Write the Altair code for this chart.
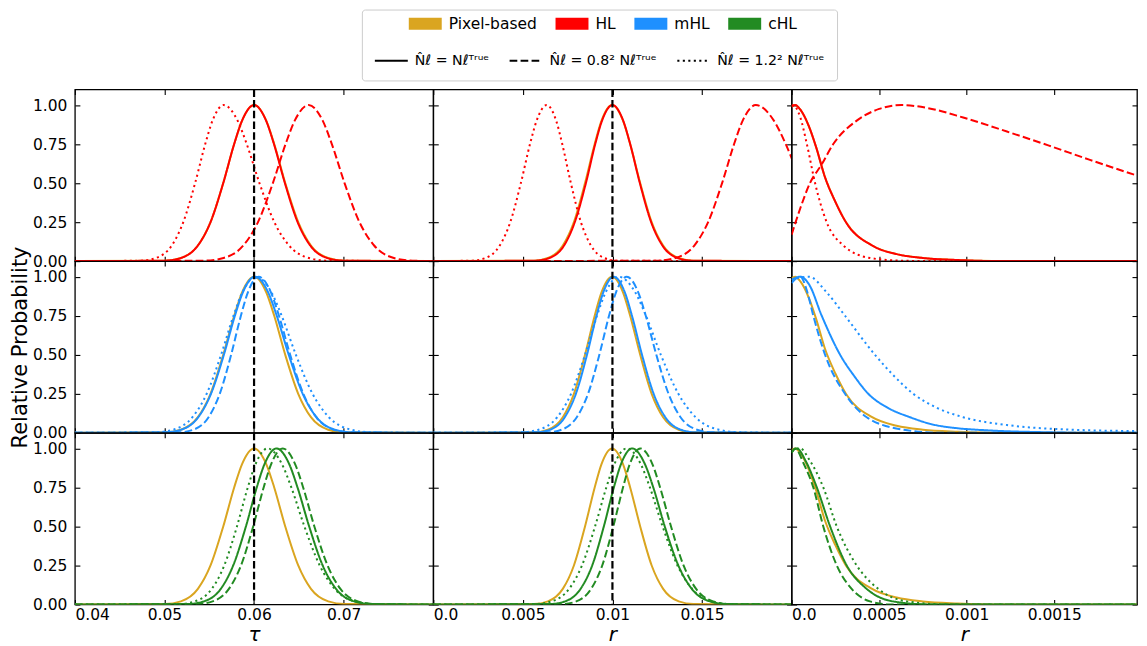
import altair as alt
import pandas as pd

# ---------------- categories / styles ----------------
METHODS = ["Pixel-based", "HL", "mHL", "cHL"]
METHOD_COLORS = ["#DAA520", "#FF0000", "#1E90FF", "#228B22"]
# same colours, listed in the order used by the curve lines
LINE_METHODS = ["HL", "mHL", "cHL", "Pixel-based"]
LINE_COLORS = ["#FF0000", "#1E90FF", "#228B22", "#DAA520"]
NOISE_LABELS = ["N\u0302\u2113 = N\u2113\u1d40\u02b3\u1d58\u1d49",
                "N\u0302\u2113 = 0.8\u00b2 N\u2113\u1d40\u02b3\u1d58\u1d49",
                "N\u0302\u2113 = 1.2\u00b2 N\u2113\u1d40\u02b3\u1d58\u1d49"]
NOISE_DASHES = [[1, 0], [7.7, 3.3], [2.1, 3.4]]

X_DOMAINS = [[0.04, 0.08], [0.0, 0.02], [0.0, 0.001973]]
X_TICKS = [[0.04, 0.05, 0.06, 0.07], [0.0, 0.005, 0.01, 0.015], [0.0, 0.0005, 0.001, 0.0015]]
X_TITLES = ["τ", "r", "r"]
Y_TICKS = [0, 0.25, 0.5, 0.75, 1.0]
TRUE_VALUES = [0.06, 0.01]

# ---------------- curve readings ----------------
BELL_Y = [0, 0.003, 0.02, 0.1, 0.25, 0.5, 0.75, 0.9, 1.0, 0.9, 0.75, 0.5, 0.25, 0.1, 0.02, 0.003, 0]

# tau column
TAU_PIX = [0.04, 0.05004, 0.05183, 0.05373, 0.05514, 0.05656, 0.05778, 0.05866, 0.0600, 0.06136, 0.06225, 0.06348, 0.06493, 0.06635, 0.06828, 0.07009, 0.08]
TAU_HL_SOLID = [0.04, 0.05004, 0.05183, 0.05373, 0.05514, 0.05656, 0.05778, 0.05866, 0.0600, 0.06134, 0.06222, 0.06344, 0.06486, 0.06627, 0.06817, 0.06996, 0.08]
TAU_HL_DASH = [0.04, 0.05451, 0.05659, 0.0588, 0.06044, 0.0621, 0.06352, 0.06454, 0.0661, 0.06766, 0.06868, 0.0701, 0.07176, 0.0734, 0.07561, 0.07769, 0.08]
TAU_HL_DOT = [0.04, 0.04739, 0.04905, 0.05081, 0.0521, 0.05342, 0.05455, 0.05536, 0.0566, 0.05816, 0.05918, 0.0606, 0.06226, 0.0639, 0.06611, 0.06819, 0.08]
TAU_MHL_SOLID = [0.04, 0.05004, 0.05185, 0.05377, 0.05519, 0.05663, 0.05786, 0.05875, 0.0601, 0.06157, 0.06253, 0.06387, 0.06543, 0.06697, 0.06905, 0.07101, 0.08]
TAU_MHL_DASH = [0.04, 0.05163, 0.05323, 0.05492, 0.05617, 0.05744, 0.05853, 0.05931, 0.0605, 0.06188, 0.06278, 0.06403, 0.0655, 0.06694, 0.06889, 0.07073, 0.08]
TAU_MHL_DOT = [0.04, 0.04895, 0.05097, 0.05312, 0.05471, 0.05632, 0.0577, 0.05869, 0.0602, 0.06194, 0.06308, 0.06467, 0.06653, 0.06835, 0.07083, 0.07316, 0.08]
TAU_CHL_SOLID = [0.04, 0.05261, 0.05439, 0.05628, 0.05767, 0.05909, 0.0603, 0.06117, 0.0625, 0.06392, 0.06485, 0.06615, 0.06766, 0.06915, 0.07117, 0.07307, 0.08]
TAU_CHL_DASH = [0.04, 0.05365, 0.05537, 0.05719, 0.05854, 0.0599, 0.06107, 0.06191, 0.0632, 0.06458, 0.06548, 0.06673, 0.0682, 0.06964, 0.07159, 0.07343, 0.08]
TAU_CHL_DOT = [0.04, 0.05161, 0.05339, 0.05528, 0.05667, 0.05809, 0.0593, 0.06017, 0.0615, 0.06311, 0.06416, 0.06562, 0.06733, 0.06901, 0.07129, 0.07344, 0.08]

# r column (0 - 0.02)
R_PIX = [0.0, 0.00562, 0.0064, 0.00723, 0.00785, 0.00847, 0.00901, 0.00939, 0.00998, 0.01059, 0.01099, 0.01155, 0.01219, 0.01283, 0.0137, 0.01452, 0.02]
R_HL_SOLID = [0.0, 0.0057, 0.00648, 0.0073, 0.0079, 0.00852, 0.00904, 0.00942, 0.0100, 0.0106, 0.01099, 0.01153, 0.01216, 0.01279, 0.01364, 0.01443, 0.02]
R_HL_DOT = [0.0, 0.00217, 0.00292, 0.00371, 0.0043, 0.00489, 0.0054, 0.00577, 0.00633, 0.00686, 0.0072, 0.00768, 0.00824, 0.0088, 0.00955, 0.01025, 0.02]
R_HL_DASH_X = [0.0, 0.01254, 0.01352, 0.01457, 0.01534, 0.01612, 0.01679, 0.01727, 0.0180, 0.01901, 0.01967, 0.0200, 0.0205]
R_HL_DASH_Y = [0, 0.003, 0.02, 0.1, 0.25, 0.5, 0.75, 0.9, 1.0, 0.9, 0.75, 0.66, 0.52]
R_MHL_SOLID = [0.0, 0.00574, 0.00652, 0.00734, 0.00796, 0.00858, 0.00911, 0.00949, 0.01007, 0.01069, 0.01109, 0.01165, 0.0123, 0.01295, 0.01382, 0.01464, 0.02]
R_MHL_DASH = [0.0, 0.00637, 0.00716, 0.00801, 0.00864, 0.00927, 0.00981, 0.0102, 0.0108, 0.01144, 0.01186, 0.01245, 0.01313, 0.0138, 0.01472, 0.01557, 0.02]
R_MHL_DOT = [0.0, 0.00489, 0.00587, 0.00692, 0.00769, 0.00847, 0.00914, 0.00962, 0.01035, 0.01127, 0.01187, 0.0127, 0.01368, 0.01464, 0.01594, 0.01717, 0.02]
R_CHL_SOLID = [0.0, 0.00653, 0.00735, 0.00822, 0.00887, 0.00952, 0.01008, 0.01048, 0.0111, 0.01181, 0.01228, 0.01292, 0.01368, 0.01443, 0.01544, 0.01639, 0.02]
R_CHL_DASH = [0.0, 0.0072, 0.00798, 0.00881, 0.00943, 0.01005, 0.01059, 0.01097, 0.01156, 0.01223, 0.01266, 0.01327, 0.01397, 0.01467, 0.01562, 0.0165, 0.02]
R_CHL_DOT = [0.0, 0.00568, 0.0066, 0.00758, 0.0083, 0.00903, 0.00966, 0.01011, 0.0108, 0.01158, 0.01209, 0.0128, 0.01363, 0.01445, 0.01555, 0.0166, 0.02]

# r column (0 - 0.002)
R3_PIX_X = [0.0, 0.00002, 0.00005, 0.0001, 0.00014, 0.00019, 0.00025, 0.00031, 0.00046, 0.0006, 0.00075, 0.00095, 0.0012, 0.00205]
R3_PIX_Y = [0.99, 1.0, 0.97, 0.86, 0.73, 0.54, 0.38, 0.25, 0.1, 0.045, 0.02, 0.007, 0.0, 0.0]
R3_HL_DOT_X = [0.0, 0.00002, 0.00005, 0.000087, 0.000134, 0.0002, 0.000296, 0.000448, 0.00062, 0.0008, 0.00205]
R3_HL_DOT_Y = [1.0, 0.99, 0.92, 0.75, 0.5, 0.25, 0.1, 0.02, 0.003, 0.0, 0.0]
R3_HL_DASH_X = [0.0, 0.00005, 0.000105, 0.000172, 0.000238, 0.000372, 0.0005, 0.000628, 0.00078, 0.00098, 0.00123, 0.00147, 0.0017, 0.00205]
R3_HL_DASH_Y = [0.17, 0.34, 0.5, 0.62, 0.75, 0.9, 0.975, 1.0, 0.98, 0.92, 0.83, 0.74, 0.65, 0.52]
R3_MHL_SOLID_X = [0.0, 0.00005, 0.0001, 0.000172, 0.000277, 0.00036, 0.000438, 0.00055, 0.000676, 0.0008, 0.000942, 0.0011, 0.00123, 0.0014, 0.0017, 0.00205]
R3_MHL_SOLID_Y = [0.98, 1.0, 0.95, 0.75, 0.5, 0.36, 0.25, 0.16, 0.1, 0.055, 0.03, 0.017, 0.01, 0.005, 0.0, 0.0]
R3_MHL_DASH_X = [0.0, 0.00005, 0.00009, 0.000124, 0.000191, 0.000305, 0.000429, 0.000638, 0.00085, 0.00205]
R3_MHL_DASH_Y = [0.96, 1.0, 0.9, 0.75, 0.5, 0.25, 0.1, 0.02, 0.0, 0.0]
R3_MHL_DOT_X = [0.0, 0.00005, 0.0001, 0.0002, 0.000305, 0.000476, 0.00058, 0.000695, 0.00083, 0.00098, 0.00123, 0.0016, 0.00205]
R3_MHL_DOT_Y = [0.98, 0.995, 1.0, 0.9, 0.75, 0.5, 0.37, 0.25, 0.16, 0.1, 0.05, 0.02, 0.01]
R3_CHL_SOLID_X = [0.0, 0.00003, 0.00008, 0.000144, 0.00022, 0.000315, 0.000429, 0.00058, 0.00079, 0.00205]
R3_CHL_SOLID_Y = [0.98, 1.0, 0.92, 0.75, 0.5, 0.25, 0.1, 0.02, 0.0, 0.0]
R3_CHL_DASH_X = [0.0, 0.00002, 0.00007, 0.000124, 0.000181, 0.000258, 0.000343, 0.000448, 0.00056, 0.00205]
R3_CHL_DASH_Y = [0.97, 1.0, 0.9, 0.75, 0.5, 0.25, 0.1, 0.02, 0.0, 0.0]
R3_CHL_DOT_X = [0.0, 0.00005, 0.0001, 0.000181, 0.000258, 0.000372, 0.000495, 0.000657, 0.0009, 0.00205]
R3_CHL_DOT_Y = [0.98, 1.0, 0.93, 0.75, 0.5, 0.25, 0.1, 0.02, 0.0, 0.0]

# (column, xs, ys) for the pixel-based reference, drawn in every row
PIXEL_CURVES = [(0, TAU_PIX, BELL_Y), (1, R_PIX, BELL_Y), (2, R3_PIX_X, R3_PIX_Y)]

# (row, column, method, noise index, xs, ys)
CURVES = [
    (0, 0, "HL", 0, TAU_HL_SOLID, BELL_Y), (0, 0, "HL", 1, TAU_HL_DASH, BELL_Y), (0, 0, "HL", 2, TAU_HL_DOT, BELL_Y),
    (1, 0, "mHL", 0, TAU_MHL_SOLID, BELL_Y), (1, 0, "mHL", 1, TAU_MHL_DASH, BELL_Y), (1, 0, "mHL", 2, TAU_MHL_DOT, BELL_Y),
    (2, 0, "cHL", 0, TAU_CHL_SOLID, BELL_Y), (2, 0, "cHL", 1, TAU_CHL_DASH, BELL_Y), (2, 0, "cHL", 2, TAU_CHL_DOT, BELL_Y),
    (0, 1, "HL", 0, R_HL_SOLID, BELL_Y), (0, 1, "HL", 1, R_HL_DASH_X, R_HL_DASH_Y), (0, 1, "HL", 2, R_HL_DOT, BELL_Y),
    (1, 1, "mHL", 0, R_MHL_SOLID, BELL_Y), (1, 1, "mHL", 1, R_MHL_DASH, BELL_Y), (1, 1, "mHL", 2, R_MHL_DOT, BELL_Y),
    (2, 1, "cHL", 0, R_CHL_SOLID, BELL_Y), (2, 1, "cHL", 1, R_CHL_DASH, BELL_Y), (2, 1, "cHL", 2, R_CHL_DOT, BELL_Y),
    (0, 2, "HL", 0, R3_PIX_X, R3_PIX_Y), (0, 2, "HL", 1, R3_HL_DASH_X, R3_HL_DASH_Y), (0, 2, "HL", 2, R3_HL_DOT_X, R3_HL_DOT_Y),
    (1, 2, "mHL", 0, R3_MHL_SOLID_X, R3_MHL_SOLID_Y), (1, 2, "mHL", 1, R3_MHL_DASH_X, R3_MHL_DASH_Y), (1, 2, "mHL", 2, R3_MHL_DOT_X, R3_MHL_DOT_Y),
    (2, 2, "cHL", 0, R3_CHL_SOLID_X, R3_CHL_SOLID_Y), (2, 2, "cHL", 1, R3_CHL_DASH_X, R3_CHL_DASH_Y), (2, 2, "cHL", 2, R3_CHL_DOT_X, R3_CHL_DOT_Y),
]

PANEL_W = [359, 359, 346]
PANEL_H = 172

# ---------------- tables ----------------
pix_rows = []
for c, xs, ys in PIXEL_CURVES:
    for x, y in zip(xs, ys):
        pix_rows.append({"col": c, "method": "Pixel-based", "x": x, "y": y})
pix_df = pd.DataFrame(pix_rows)

var_rows = []
for r, c, m, n, xs, ys in CURVES:
    for x, y in zip(xs, ys):
        var_rows.append({"row": r, "col": c, "method": m, "noise": n, "x": x, "y": y})
var_df = pd.DataFrame(var_rows)

legend_methods = pd.DataFrame({"method": pd.Series([], dtype=str)})
legend_noise = pd.DataFrame({"noise": pd.Series([], dtype=str)})

LABEL_EXPR = "datum.value == 0 ? '0.0' : toString(datum.value)"


def line_color_scale():
    return alt.Scale(domain=LINE_METHODS, range=LINE_COLORS)


def legend_layers():
    swatches = alt.Chart(legend_methods).mark_bar().encode(
        fill=alt.Fill("method:N", scale=alt.Scale(domain=METHODS, range=METHOD_COLORS),
                      legend=alt.Legend(
            title=None, orient="none", legendX=334.5, legendY=-76, direction="horizontal",
            columns=4, symbolType="M-1,-0.6H2.3V0.6H-1Z", symbolSize=400, symbolStrokeWidth=0,
            symbolOpacity=1, labelFontSize=15.5, labelOffset=20, columnPadding=18, padding=0,
            labelColor="black", zindex=2))
    )
    dash_keys = alt.Chart(legend_noise).mark_line(color="black").encode(
        strokeDash=alt.StrokeDash("noise:N", scale=alt.Scale(domain=NOISE_LABELS, range=NOISE_DASHES),
                                  legend=alt.Legend(
            title=" ", titleFontSize=18, titlePadding=10, titleColor="transparent",
            orient="none", legendX=287.5, legendY=-80, direction="horizontal", columns=3,
            symbolType="M-1,0H2.3", symbolSize=400, symbolStrokeWidth=2,
            symbolStrokeColor="black", labelFontSize=14.2, labelOffset=19, columnPadding=16,
            padding=12, strokeColor="#cccccc", cornerRadius=3, labelColor="black", zindex=1))
    )
    return [swatches, dash_keys]


def panel(r, c):
    xsc = alt.Scale(domain=X_DOMAINS[c], nice=False, zero=False)
    ysc = alt.Scale(domain=[0, 1.1], nice=False, zero=False)
    bottom = r == 2
    left = c == 0

    top_axis = alt.Axis(orient="top", values=X_TICKS[c], offset=-5, tickSize=5, domain=False,
                        labels=False, grid=False, title=None)
    right_axis = alt.Axis(orient="right", values=Y_TICKS, offset=-5, tickSize=5, domain=False,
                          labels=False, grid=False, title=None)
    bottom_axis = alt.Axis(orient="bottom", values=X_TICKS[c], offset=-5, tickSize=5, domain=False,
                           grid=False, labels=bottom, labelExpr=LABEL_EXPR, labelPadding=3,
                           labelFontSize=15.5, title=X_TITLES[c] if bottom else None,
                           titleFontSize=20, titleFontStyle="italic", titleFontWeight="normal",
                           titlePadding=2)
    left_axis = alt.Axis(orient="left", values=Y_TICKS, offset=-5, tickSize=5, domain=False,
                         grid=False, labels=left, format=".2f", labelPadding=8, labelFontSize=15.5,
                         title="Relative Probability" if (left and r == 1) else None,
                         titleFontSize=21, titleFontWeight="normal", titlePadding=2)

    pix = alt.Chart(pix_df[pix_df["col"] == c]).mark_line(
        clip=True, strokeWidth=2, interpolate="monotone"
    ).encode(
        x=alt.X("x:Q", scale=xsc, axis=top_axis),
        y=alt.Y("y:Q", scale=ysc, axis=right_axis),
        color=alt.Color("method:N", scale=line_color_scale(), legend=None),
    )
    layers = [pix]
    for n in range(3):
        sub = var_df[(var_df["row"] == r) & (var_df["col"] == c) & (var_df["noise"] == n)]
        first = n == 0
        layers.append(
            alt.Chart(sub).mark_line(
                clip=True, strokeWidth=2, interpolate="monotone", strokeDash=NOISE_DASHES[n]
            ).encode(
                x=alt.X("x:Q", scale=xsc, axis=bottom_axis if first else None),
                y=alt.Y("y:Q", scale=ysc, axis=left_axis if first else None),
                color=alt.Color("method:N", scale=line_color_scale(), legend=None),
            )
        )
    if c < 2:
        rule = alt.Chart(pd.DataFrame({"t": [TRUE_VALUES[c]]})).mark_rule(
            color="black", strokeWidth=2.2, strokeDash=[7.5, 3.2]
        ).encode(x=alt.X("t:Q", scale=xsc, axis=None))
        layers.append(rule)
    if r == 0 and c == 0:
        layers.extend(legend_layers())
    return alt.layer(*layers).properties(width=PANEL_W[c], height=PANEL_H)


chart = alt.concat(
    *[panel(r, c) for r in range(3) for c in range(3)],
    columns=3, spacing=0, bounds="flush"
).properties(
    padding={"left": 0, "top": 0, "right": 0, "bottom": 0}
).configure(
    font="DejaVu Sans"
).configure_axis(
    labelFont="DejaVu Sans", titleFont="DejaVu Sans", labelColor="black", titleColor="black",
    tickColor="black", tickWidth=1.1
).configure_legend(
    labelFont="DejaVu Sans"
).configure_view(
    stroke="black", strokeWidth=1.3
)

chart.save("out.html", embed_options={"renderer": "svg", "actions": False})
